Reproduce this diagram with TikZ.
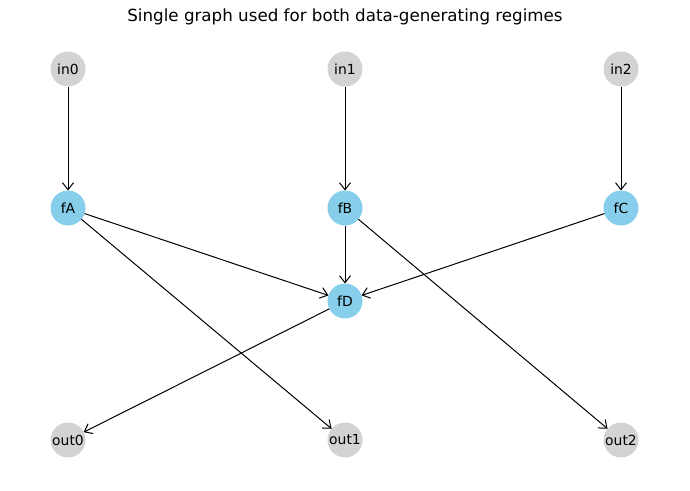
\documentclass[tikz,border=0pt]{standalone}
\usepackage{fontspec}
\setmainfont{DejaVu Sans}
\usetikzlibrary{arrows.meta}

\begin{document}
\begin{tikzpicture}[
  x=1pt, y=-1pt,
  font=\fontsize{13.9}{16}\selectfont,
  io/.style={circle, fill={rgb,255:red,211;green,211;blue,211}, minimum size=35pt,
    inner sep=0pt, outer sep=0pt},
  fn/.style={circle, fill={rgb,255:red,135;green,206;blue,235}, minimum size=35pt,
    inner sep=0pt, outer sep=0pt},
  edge/.style={-{Straight Barb[length=7pt, width=11pt]}, line width=1pt},
]
  \useasboundingbox (0,0) rectangle (690,490);
  \node[font=\fontsize{16.7}{19}\selectfont] (title) at (345,17)
    {Single graph used for both data-generating regimes};

  % inputs
  \node[io] (in0) at (68,69) {in0};
  \node[io] (in1) at (345,69) {in1};
  \node[io] (in2) at (621,69) {in2};
  % functions
  \node[fn] (fA) at (68,208) {fA};
  \node[fn] (fB) at (345,208) {fB};
  \node[fn] (fC) at (621,208) {fC};
  \node[fn] (fD) at (345,301) {fD};
  % outputs
  \node[io] (out0) at (68,440) {out0};
  \node[io] (out1) at (345,440) {out1};
  \node[io] (out2) at (621,440) {out2};

  \foreach \a/\b in {in0/fA, in1/fB, in2/fC, fA/fD, fB/fD, fC/fD,
                     fA/out1, fB/out2, fD/out0} {
    \draw[edge] (\a) -- (\b);
  }
\end{tikzpicture}
\end{document}
